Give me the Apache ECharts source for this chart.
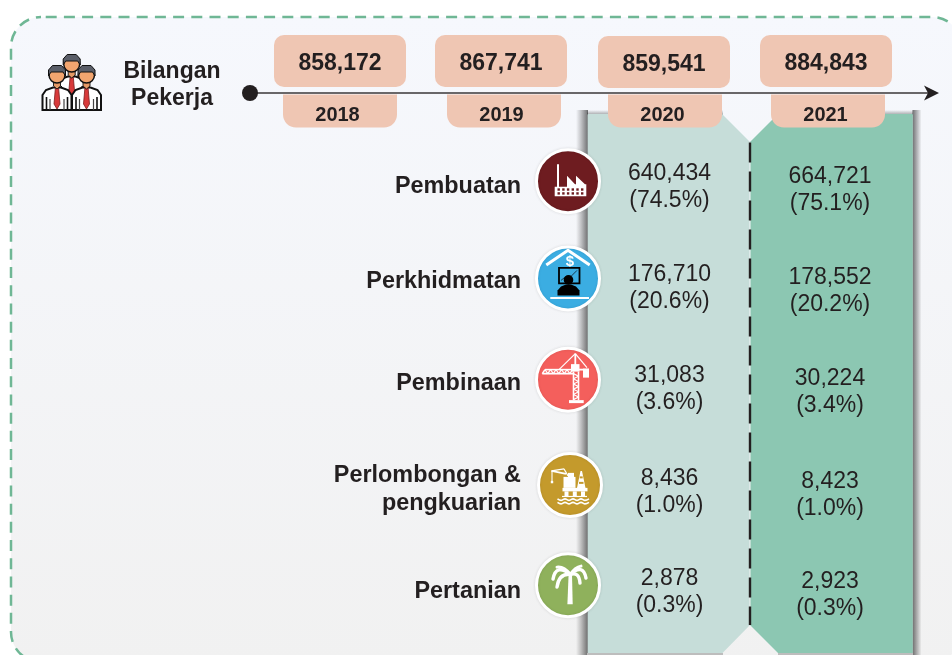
<!DOCTYPE html>
<html>
<head>
<meta charset="utf-8">
<title>Bilangan Pekerja</title>
<style>
  html, body { margin: 0; padding: 0; background: #fff; }
  #main { width: 952px; height: 655px; }
</style>
<script src="https://cdn.jsdelivr.net/npm/echarts@6/dist/echarts.min.js"></script>
</head>
<body>
<div id="main"></div>
<script>
// data
var years = ['2018', '2019', '2020', '2021'];
var totals = [858172, 867741, 859541, 884843];
var sectors = ['Pembuatan', 'Perkhidmatan', 'Pembinaan', 'Perlombongan &\npengkuarian', 'Pertanian'];
var workers2020 = [640434, 176710, 31083, 8436, 2878];
var workers2021 = [664721, 178552, 30224, 8423, 2923];
var share2020 = [74.5, 20.6, 3.6, 1.0, 0.3];
var share2021 = [75.1, 20.2, 3.4, 1.0, 0.3];

// small hand adjustments, the original artwork is not perfectly aligned
var tabNudge = [0, 2, 1, 2];
var boxNudgeX = [0, -1, 0, 0];
var boxNudgeY = [0, 0, 1, 0];
var labelNudgeY = [1, -5, -4, 1, 1];
var iconNudgeY = [-4, -8, -8, -4, -5];
var valueNudgeY = [2, 2, 2, 3, 2];

var INK = '#231f20';
var FONT = '"Liberation Sans", Arial, sans-serif';

function fmt(n) {
    return n.toLocaleString('en-US');
}

// small shape helpers for the icons
function line(x1, y1, x2, y2, w, color) {
    return { type: 'line', shape: { x1: x1, y1: y1, x2: x2, y2: y2 }, style: { stroke: color || '#fff', lineWidth: w || 1 } };
}
function box(x, y, w, h, color) {
    return { type: 'rect', shape: { x: x, y: y, width: w, height: h }, style: { fill: color || '#fff' } };
}
function poly(points, color) {
    return { type: 'polygon', shape: { points: points }, style: { fill: color || '#fff' } };
}
function frond(x2, y2, cx, cy, w) {
    return {
        type: 'bezierCurve',
        shape: { x1: 2.3, y1: -10.7, x2: x2, y2: y2, cpx1: cx, cpy1: cy },
        style: { stroke: '#fff', fill: null, lineWidth: w || 3.4, lineCap: 'round' }
    };
}

function factoryIcon() {
    var bg = '#6e1c20';
    var out = [poly([[-13.3, 15], [-13.3, 5.5], [-11, 5.5], [-11, -17], [-9, -17], [-9, 5.5], [-1, 5.5], [-1, -5.5],
        [7, 3], [8, 3], [8, -5.5], [17, 3], [18.3, 3], [18.3, 15]])];
    for (var r = 0; r < 2; r++) {
        for (var c = 0; c < 6; c++) {
            out.push(box(-10.5 + c * 4.7, 7.2 + r * 3.9, 2.4, 2.4, bg));
        }
    }
    return out;
}

function financeIcon() {
    var bg = '#3badE2';
    return [
        { type: 'polyline', shape: { points: [[-21.7, -13.3], [0, -28], [21.7, -13.3]] }, style: { stroke: '#fff', fill: null, lineWidth: 3 } },
        { type: 'text', style: { text: '$', x: 2, y: -17, fill: '#fff', font: 'bold 15px ' + FONT, align: 'center', verticalAlign: 'middle' } },
        { type: 'rect', shape: { x: -9, y: -10.5, width: 20.5, height: 15.5 }, style: { fill: bg, stroke: '#000', lineWidth: 1.8 } },
        { type: 'polyline', shape: { points: [[-7, 2], [-2, -2], [2, -1], [9, -8]] }, style: { stroke: '#1a3b50', fill: null, lineWidth: 1 } },
        { type: 'circle', shape: { cx: 0.5, cy: 1.5, r: 4.8 }, style: { fill: '#000' } },
        { type: 'polygon', shape: { points: [[-10.5, 17], [-10.5, 12], [-7, 8], [-2, 6], [3, 6], [8, 8], [11.5, 12], [11.5, 17]] }, style: { fill: '#000' } },
        box(-17.7, 18.5, 38.7, 2.2)
    ];
}

function craneIcon() {
    var out = [
        line(5.5, -8, 5.5, 20.5, 1.6), line(10.5, -8, 10.5, 20.5, 1.6),
        box(1, 20.5, 14.7, 3),
        line(-25.7, -6, 5, -6, 1.8), line(-23, -10, 5, -10, 1.6), line(-25.7, -6, -23, -10, 1.6),
        line(7.3, -26, 7.3, -13, 1.8), line(7.3, -26, -9, -10, 1.2), line(7.3, -26, 19, -12, 1.2),
        line(10, -10, 21, -10, 1.8),
        box(3, -15.5, 8.5, 7.5),
        box(15, -11, 6, 9)
    ];
    var i;
    for (i = 0; i < 5; i++) {
        out.push(line(-23 + i * 5.5, -10, -20.2 + i * 5.5, -6, 1.2));
        out.push(line(-20.2 + i * 5.5, -6, -17.5 + i * 5.5, -10, 1.2));
    }
    for (i = 0; i < 5; i++) {
        out.push(line(5.5, -6 + i * 5.2, 10.5, -3.4 + i * 5.2, 1.2));
        out.push(line(10.5, -3.4 + i * 5.2, 5.5, -0.8 + i * 5.2, 1.2));
    }
    return out;
}

function oilIcon() {
    var bg = '#c49a2c';
    return [
        box(-7.5, 3, 25, 3.5),
        box(-5.5, 6.5, 4, 5.5), box(2.8, 6.5, 4, 5.5), box(11, 6.5, 4, 5.5),
        box(-8, 11, 25, 1.2),
        box(-6.5, -8, 12, 11),
        box(-2, -12, 6, 4.5),
        line(-18.5, -14, -4, -11, 1.8), line(-18.5, -14, -6, -16, 1.1), line(-6, -16, -2, -9, 1.1),
        line(-18, -14, -18, -3, 1.1), box(-19.2, -4, 2.4, 2.4),
        poly([[10.5, -14], [12, -14], [15.5, 3], [7, 3]]),
        box(9.7, -8.5, 3, 2, bg), box(9, -3, 4.5, 2, bg),
        { type: 'polyline', shape: { points: [[-12.5, 14], [-9, 15.5], [-5, 14], [-1, 15.5], [3, 14], [7, 15.5], [11, 14], [15, 15.5], [19, 14]], smooth: 0.4 }, style: { stroke: '#fff', fill: null, lineWidth: 1.6 } },
        { type: 'polyline', shape: { points: [[-12.5, 17.5], [-9, 19], [-5, 17.5], [-1, 19], [3, 17.5], [7, 19], [11, 17.5], [15, 19], [19, 17.5]], smooth: 0.4 }, style: { stroke: '#fff', fill: null, lineWidth: 1.6 } }
    ];
}

function palmIcon() {
    return [
        frond(-15, -6, -12, -22),
        frond(-11, 2, -9, -12),
        frond(-11, -18, -4, -19, 3),
        frond(18, -7, 15, -22),
        frond(12, -2, 11, -14),
        frond(13, -19, 7, -18, 3),
        poly([[0.6, -11], [4, -11], [4.7, 19], [-0.6, 19]])
    ];
}

var iconColors = ['#6e1c20', '#3badE2', '#f45f5c', '#c49a2c', '#8fb15c'];
var iconParts = [factoryIcon, financeIcon, craneIcon, oilIcon, palmIcon];

function renderSector(params, api) {
    var row = api.value(0);
    var pos = api.coord([years[0], sectors[row]]);
    var i = params.dataIndex;
    var children = [
        { type: 'text', style: { text: sectors[row], x: 521, y: pos[1] + labelNudgeY[i], fill: INK, font: 'bold 23.4px ' + FONT, align: 'right', verticalAlign: 'middle', lineHeight: 28 } },
        {
            type: 'group', x: i === 3 ? 570 : 568, y: pos[1] + iconNudgeY[i],
            children: [
                { type: 'circle', shape: { cx: 0, cy: 0, r: 31.5 }, style: { fill: iconColors[i], stroke: '#fff', lineWidth: 3, shadowBlur: 3, shadowColor: 'rgba(0,0,0,0.1)' } }
            ].concat(iconParts[i]())
        }
    ];
    return { type: 'group', children: children };
}

function renderValue(params, api) {
    var year = years[api.value(0)];
    var row = api.value(1);
    var pos = api.coord([year, sectors[row]]);
    var is2021 = year === '2021';
    return {
        type: 'text',
        style: {
            text: fmt(api.value(2)) + '\n(' + api.value(3).toFixed(1) + '%)',
            x: pos[0] + (is2021 ? 4 : 5.5),
            y: pos[1] + valueNudgeY[row] + (is2021 ? 3 : 0),
            fill: INK, font: '23px ' + FONT, align: 'center', verticalAlign: 'middle', lineHeight: 27
        }
    };
}

function renderTotal(params, api) {
    var i = api.value(0);
    var pos = api.coord([years[i], 'total']);
    var cx = pos[0] + boxNudgeX[i];
    return {
        type: 'group',
        children: [
            { type: 'rect', shape: { x: cx - 66, y: pos[1] - 26 + boxNudgeY[i], width: 132, height: 52, r: 10 }, style: { fill: '#efc6b3' } },
            { type: 'text', style: { text: fmt(api.value(1)), x: cx, y: pos[1] + 3 + boxNudgeY[i], fill: INK, font: 'bold 23px ' + FONT, align: 'center', verticalAlign: 'middle' } }
        ]
    };
}

function renderYear(params, api) {
    var i = api.value(0);
    var pos = api.coord([years[i], 'year']);
    var cx = pos[0] + tabNudge[i];
    return {
        type: 'group',
        children: [
            { type: 'rect', shape: { x: cx - 57, y: pos[1] - 16.5, width: 114, height: 33, r: [0, 0, 13, 13] }, style: { fill: '#efc6b3' } },
            { type: 'text', style: { text: years[i], x: cx - 2.5, y: pos[1] + 4, fill: INK, font: 'bold 20px ' + FONT, align: 'center', verticalAlign: 'middle' } }
        ]
    };
}

// people icon in the header, cx/cy is the centre of the head
function person(cx, cy) {
    return {
        type: 'group', x: cx, y: cy,
        children: [
            { type: 'polygon', shape: { points: [[-14.5, 35], [-14.5, 20], [-11, 15], [-4, 12.5], [4, 12.5], [11, 15], [14.5, 20], [14.5, 35]] }, style: { fill: '#fff', stroke: '#111', lineWidth: 2 } },
            line(-10.5, 22, -10.5, 35, 1.6, '#111'), line(-7, 24, -7, 35, 1.2, '#444'),
            line(10.5, 22, 10.5, 35, 1.6, '#111'), line(7, 24, 7, 35, 1.2, '#444'),
            { type: 'polygon', shape: { points: [[-1.6, 13], [1.6, 13], [3, 29], [0, 34], [-3, 29]] }, style: { fill: '#d83a3a', stroke: '#7a1d1d', lineWidth: 0.8 } },
            { type: 'polygon', shape: { points: [[-3.5, 6], [3.5, 6], [3.5, 11], [0, 14], [-3.5, 11]] }, style: { fill: '#e59a66', stroke: '#111', lineWidth: 0.9 } },
            { type: 'circle', shape: { cx: 0, cy: 0, r: 8 }, style: { fill: '#f2a56f', stroke: '#111', lineWidth: 1.5 } },
            { type: 'polygon', shape: { points: [[-8.5, 1], [-8.5, -5], [-4.5, -9.5], [4.5, -9.5], [8.5, -5], [8.5, 1], [6, -3], [-6, -3]] }, style: { fill: '#5a5e68', stroke: '#111', lineWidth: 1 } }
        ]
    };
}

var chart = echarts.init(document.getElementById('main'), null, { renderer: 'canvas' });

chart.setOption({
    animation: false,
    backgroundColor: '#fff',
    grid: [
        { left: 259, top: 134.5, width: 648, height: 506.25 },
        { left: 259, top: 36, width: 648, height: 100 }
    ],
    xAxis: [
        { type: 'category', data: years, show: false, gridIndex: 0 },
        { type: 'category', data: years, show: false, gridIndex: 1 }
    ],
    yAxis: [
        { type: 'category', data: sectors, inverse: true, show: false, gridIndex: 0 },
        { type: 'category', data: ['total', 'year'], inverse: true, show: false, gridIndex: 1 }
    ],
    graphic: [
        // dashed frame
        {
            type: 'rect', z: 0, shape: { x: 11, y: 17, width: 951, height: 645, r: 30 },
            style: {
                fill: { type: 'linear', x: 0, y: 0, x2: 0, y2: 1, colorStops: [{ offset: 0, color: '#f6f8fd' }, { offset: 1, color: '#f1f1f1' }] },
                stroke: '#6fb795', lineWidth: 2.5, lineDash: [11, 7.2], lineDashOffset: 13.5
            }
        },
        // panel shadows
        {
            type: 'rect', z: 1, shape: { x: 576, y: 110, width: 12, height: 545 },
            style: { fill: { type: 'linear', x: 0, y: 0, x2: 1, y2: 0, colorStops: [{ offset: 0, color: 'rgba(0,0,0,0)' }, { offset: 0.4, color: 'rgba(0,0,0,0.2)' }, { offset: 1, color: 'rgba(0,0,0,0.55)' }] } }
        },
        {
            type: 'rect', z: 1, shape: { x: 912.5, y: 110, width: 9, height: 545 },
            style: { fill: { type: 'linear', x: 0, y: 0, x2: 1, y2: 0, colorStops: [{ offset: 0, color: 'rgba(0,0,0,0.55)' }, { offset: 0.55, color: 'rgba(0,0,0,0.25)' }, { offset: 1, color: 'rgba(0,0,0,0)' }] } }
        },
        {
            type: 'rect', z: 1, shape: { x: 587, y: 110, width: 136, height: 5 },
            style: { fill: { type: 'linear', x: 0, y: 0, x2: 0, y2: 1, colorStops: [{ offset: 0, color: 'rgba(0,0,0,0)' }, { offset: 1, color: 'rgba(0,0,0,0.35)' }] } }
        },
        {
            type: 'rect', z: 1, shape: { x: 779, y: 110, width: 134, height: 5 },
            style: { fill: { type: 'linear', x: 0, y: 0, x2: 0, y2: 1, colorStops: [{ offset: 0, color: 'rgba(0,0,0,0)' }, { offset: 1, color: 'rgba(0,0,0,0.35)' }] } }
        },
        { type: 'rect', z: 1, shape: { x: 587, y: 653, width: 136, height: 2 }, style: { fill: '#bdbdbd' } },
        { type: 'rect', z: 1, shape: { x: 778, y: 653, width: 135, height: 2 }, style: { fill: '#bdbdbd' } },
        // year panels
        {
            type: 'polygon', z: 1,
            shape: { points: [[587.7, 114], [722, 114], [749.5, 141.5], [749.5, 625.5], [722.5, 653], [587.7, 653]] },
            style: { fill: '#c6ddd9' }
        },
        {
            type: 'polygon', z: 1,
            shape: { points: [[750.5, 141.5], [778, 114], [912.7, 114], [912.7, 653], [778, 653], [750.5, 625.5]] },
            style: { fill: '#8cc7b2' }
        },
        {
            type: 'line', z: 1,
            shape: { x1: 750, y1: 142.5, x2: 750, y2: 625 },
            style: { stroke: '#231f20', lineWidth: 2.4, lineDash: [20, 9] }
        },
        // timeline
        { type: 'line', z: 1, shape: { x1: 250, y1: 93, x2: 930, y2: 93 }, style: { stroke: '#3a3738', lineWidth: 1.6 } },
        { type: 'circle', z: 1, shape: { cx: 250, cy: 93, r: 8 }, style: { fill: INK } },
        { type: 'polygon', z: 1, shape: { points: [[924, 85.5], [939, 93], [924, 100.5], [928, 93]] }, style: { fill: INK } },
        // header text and people icon
        {
            type: 'text', z: 3,
            style: { text: 'Bilangan\nPekerja', x: 172, y: 85, fill: INK, font: 'bold 23px ' + FONT, align: 'center', verticalAlign: 'middle', lineHeight: 27 }
        },
        person(71.7, 64),
        person(57, 75),
        person(86.5, 75)
    ],
    series: [
        {
            type: 'custom', name: 'Jumlah', xAxisIndex: 1, yAxisIndex: 1, silent: true, clip: false, z: 3,
            renderItem: renderTotal,
            data: totals.map(function (v, i) { return [i, v]; })
        },
        {
            type: 'custom', name: 'Tahun', xAxisIndex: 1, yAxisIndex: 1, silent: true, clip: false, z: 3,
            renderItem: renderYear,
            data: years.map(function (y, i) { return [i]; })
        },
        {
            type: 'custom', name: 'Sektor', xAxisIndex: 0, yAxisIndex: 0, silent: true, clip: false, z: 3,
            renderItem: renderSector,
            data: sectors.map(function (s, i) { return [i]; })
        },
        {
            type: 'custom', name: '2020', xAxisIndex: 0, yAxisIndex: 0, silent: true, clip: false, z: 3,
            renderItem: renderValue,
            data: workers2020.map(function (v, i) { return [2, i, v, share2020[i]]; })
        },
        {
            type: 'custom', name: '2021', xAxisIndex: 0, yAxisIndex: 0, silent: true, clip: false, z: 3,
            renderItem: renderValue,
            data: workers2021.map(function (v, i) { return [3, i, v, share2021[i]]; })
        }
    ]
});
</script>
</body>
</html>
